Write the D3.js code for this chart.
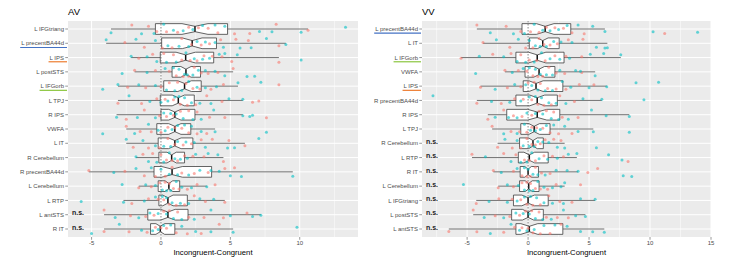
<!DOCTYPE html>
<html>
<head>
<meta charset="utf-8">
<script src="https://cdn.jsdelivr.net/npm/d3@7"></script>
<style>
  body { margin: 0; background: #fff; }
  svg { display: block; }
  text { font-family: "Liberation Sans", Arial, sans-serif; }
</style>
</head>
<body>
<div id="chart"></div>
<script>
// ---- AV panel data (Incongruent - Congruent) ----
const avRois = ["L IFGtriang", "L precentBA44d", "L IPS", "L postSTS", "L IFGorb", "L TPJ", "R IPS", "VWFA",
  "L IT", "R Cerebellum", "R precentBA44d", "L Cerebellum", "L RTP", "L antSTS", "R IT"];
const avLo  = [-3.6, -3.95, -2.15, -1.9, -3.1, -3.1, -3.2, -2.5, -2.5, -1.8, -5.2, -1.6, -2.7, -4.1, -4.1];
const avQ1  = [-0.4, 0.05, -0.05, 0.8, 0.2, -0.05, 0.0, -0.3, -0.2, -0.15, -0.5, -0.2, -0.15, -0.95, -0.75];
const avMed = [2.45, 2.25, 1.78, 1.8, 1.7, 1.25, 1.0, 1.0, 1.0, 0.77, 0.8, 0.57, 0.5, 0.5, -0.05];
const avQ3  = [4.8, 4.0, 3.8, 2.85, 2.9, 2.4, 2.45, 2.15, 2.3, 1.7, 3.65, 1.35, 1.9, 1.95, 1.0];
const avHi  = [10.6, 9.0, 8.5, 5.2, 5.55, 5.9, 5.9, 3.9, 6.05, 4.5, 9.5, 3.3, 4.6, 7.2, 5.2];
const avNs  = ["L antSTS", "R IT"];
const avSalmon = [
  [-2.1, -0.9, -0.3, 0.4, 1.2, 2.0, 2.7, 3.4, 4.1, 5.3, 6.4, 8.3, 10.6],
  [-2.6, -1.2, 0.1, 0.8, 1.5, 2.2, 2.9, 3.5, 4.3, 5.4, 6.3, 8.5],
  [-1.6, -0.6, 0.2, 0.9, 1.5, 2.1, 2.6, 3.1, 3.7, 4.4, 5.1, 8.5],
  [-1.9, -0.4, 0.6, 1.1, 1.6, 2.0, 2.4, 2.9, 3.4, 4.1, 5.2],
  [-2.4, -1.1, 0.0, 0.6, 1.2, 1.8, 2.3, 2.8, 3.6, 4.5, 8.5],
  [-3.1, -1.4, -0.3, 0.3, 0.9, 1.4, 1.9, 2.5, 3.3, 4.4, 6.6, 7.05],
  [-2.5, -1.2, -0.1, 0.4, 0.9, 1.4, 2.0, 2.6, 3.5, 4.6, 7.6],
  [-2.5, -1.5, -0.7, 0.0, 0.5, 1.0, 1.5, 2.0, 2.6, 3.3],
  [-2.0, -0.9, -0.1, 0.5, 1.0, 1.6, 2.2, 2.9, 3.7, 4.9, 6.05],
  [-1.3, -0.6, 0.0, 0.4, 0.8, 1.2, 1.7, 2.3, 3.1, 4.5],
  [-5.2, -2.6, -1.2, -0.4, 0.3, 0.8, 1.5, 2.4, 3.4, 4.6, 5.3],
  [-1.6, -0.7, -0.1, 0.3, 0.6, 0.9, 1.3, 1.9, 2.6, 3.9],
  [-2.1, -0.9, -0.2, 0.2, 0.6, 1.1, 1.7, 2.4, 3.2, 4.6],
  [-4.1, -2.2, -1.1, -0.5, 0.2, 0.6, 1.2, 2.0, 3.1, 4.5, 6.2],
  [-4.1, -2.3, -1.0, -0.4, 0.0, 0.4, 1.1, 1.9, 2.9, 4.2]
];
const avTeal = [
  [-3.6, -1.4, -0.5, 0.2, 0.9, 1.6, 2.3, 3.0, 3.9, 4.6, 7.1, 8.0, 10.1, 13.3],
  [-3.95, -1.8, -0.4, 0.5, 1.3, 2.0, 2.6, 3.2, 3.9, 4.5, 5.7, 6.5, 7.6, 9.0],
  [-2.15, -1.0, -0.3, 0.4, 1.1, 1.8, 2.4, 3.0, 3.5, 4.2, 4.6, 5.5, 10.1],
  [-2.8, -1.0, 0.3, 0.9, 1.3, 1.7, 1.9, 2.3, 2.7, 3.2, 3.9, 4.6, 6.2, 6.75],
  [-4.2, -3.1, -1.6, -0.4, 0.4, 1.0, 1.5, 2.0, 2.6, 3.2, 4.0, 5.55, 7.2],
  [-2.3, -0.8, 0.0, 0.5, 1.0, 1.3, 1.7, 2.2, 2.8, 3.6, 4.9, 5.9],
  [-3.2, -1.7, -0.4, 0.2, 0.7, 1.1, 1.6, 2.3, 2.9, 3.8, 5.9, 6.4, 6.6],
  [-4.2, -1.9, -0.9, -0.2, 0.3, 0.8, 1.2, 1.7, 2.2, 2.9, 3.9, 7.6],
  [-2.5, -1.3, -0.4, 0.2, 0.7, 1.2, 1.8, 2.4, 3.2, 4.8, 5.3, 7.05],
  [-1.8, -0.9, -0.3, 0.2, 0.6, 1.0, 1.4, 1.9, 2.5, 3.4, 4.1],
  [-3.4, -1.8, -0.7, 0.0, 0.6, 1.2, 2.0, 2.8, 3.6, 4.2, 5.0, 5.8, 9.5],
  [-2.8, -1.1, -0.4, 0.1, 0.4, 0.7, 1.1, 1.5, 2.2, 3.3],
  [-5.75, -2.7, -1.2, -0.4, 0.1, 0.4, 0.8, 1.4, 2.0, 2.8, 3.8],
  [-3.3, -1.6, -0.8, -0.2, 0.4, 0.9, 1.5, 2.4, 3.6, 5.0, 6.6, 7.2],
  [-5.0, -3.0, -1.4, -0.6, -0.2, 0.2, 0.7, 1.5, 2.5, 3.6, 5.2, 9.8]
];

// ---- VV panel data ----
const vvRois = ["L precentBA44d", "L IT", "L IFGorb", "VWFA", "L IPS", "R precentBA44d", "R IPS", "L TPJ",
  "R Cerebellum", "L RTP", "R IT", "L Cerebellum", "L IFGtriang", "L postSTS", "L antSTS"];
const vvLo  = [-4.2, -3.7, -5.5, -1.9, -3.9, -4.2, -3.3, -2.95, -2.5, -4.6, -2.85, -2.45, -4.25, -4.5, -6.5];
const vvQ1  = [-0.5, 0.1, -1.0, -0.25, -0.4, -1.0, -1.75, -0.6, -0.7, -0.8, -0.65, -0.7, -1.2, -1.35, -1.0];
const vvMed = [1.4, 1.2, 0.75, 0.9, 0.65, 0.75, 0.75, 0.5, 0.4, 0.1, 0.0, 0.05, 0.0, 0.0, 0.1];
const vvQ3  = [3.5, 2.55, 2.95, 2.2, 2.85, 2.4, 2.6, 1.8, 1.25, 1.65, 0.85, 0.9, 1.65, 1.25, 2.85];
const vvHi  = [6.3, 6.5, 7.6, 5.5, 6.45, 6.05, 8.3, 5.35, 3.0, 4.0, 4.1, 3.0, 5.5, 4.7, 6.25];
const vvNs  = ["R Cerebellum", "L RTP", "R IT", "L Cerebellum", "L IFGtriang", "L postSTS", "L antSTS"];
const vvSalmon = [
  [-4.2, -1.8, -0.6, 0.2, 0.9, 1.5, 2.2, 2.9, 3.6, 4.6, 11.2],
  [-3.7, -1.5, -0.2, 0.4, 0.9, 1.3, 1.8, 2.4, 3.3, 4.5],
  [-5.5, -2.9, -1.4, -0.6, 0.1, 0.7, 1.4, 2.2, 3.1, 4.4],
  [-1.9, -0.8, -0.1, 0.4, 0.8, 1.2, 1.7, 2.3, 3.0, 4.4],
  [-3.9, -1.7, -0.6, 0.0, 0.5, 1.0, 1.6, 2.3, 3.1, 4.2, 5.4],
  [-4.2, -2.2, -1.1, -0.4, 0.3, 0.8, 1.3, 1.9, 2.6, 3.8],
  [-3.3, -2.0, -1.2, -0.5, 0.3, 0.9, 1.5, 2.1, 2.8, 4.1],
  [-2.95, -1.4, -0.7, -0.1, 0.3, 0.7, 1.2, 1.8, 2.5, 3.6],
  [-2.5, -1.3, -0.6, -0.1, 0.3, 0.6, 1.0, 1.4, 2.1, 2.7],
  [-4.6, -2.0, -1.0, -0.3, 0.1, 0.6, 1.3, 2.0, 2.9, 8.2],
  [-2.85, -1.2, -0.5, -0.1, 0.2, 0.6, 1.1, 1.8, 4.9, 5.7],
  [-2.45, -1.2, -0.5, -0.1, 0.2, 0.6, 1.0, 1.6, 2.3, 4.3],
  [-4.25, -2.4, -1.3, -0.6, -0.1, 0.4, 1.0, 1.7, 2.6, 3.6],
  [-4.5, -2.7, -1.5, -0.7, -0.2, 0.3, 0.9, 1.5, 2.4, 3.3],
  [-6.5, -4.2, -2.0, -1.1, -0.5, 0.0, 0.4, 1.0, 1.8, 2.7]
];
const vvTeal = [
  [-3.1, -1.2, -0.3, 0.5, 1.2, 1.8, 2.5, 3.2, 4.1, 5.3, 6.3, 10.25, 13.9],
  [-2.6, -0.8, 0.1, 0.6, 1.0, 1.5, 2.1, 2.7, 3.6, 5.6, 6.3, 6.5],
  [-4.0, -2.0, -0.9, -0.2, 0.5, 1.1, 1.8, 2.6, 3.4, 5.1, 6.2, 7.6],
  [-4.3, -1.3, -0.4, 0.1, 0.6, 1.0, 1.5, 2.0, 2.6, 3.9, 4.3, 5.5],
  [-2.7, -1.1, -0.2, 0.3, 0.8, 1.4, 2.0, 2.8, 3.5, 5.0, 6.45, 8.85, 10.7],
  [-7.8, -3.0, -1.5, -0.6, 0.1, 0.6, 1.1, 1.7, 2.3, 3.1, 4.5, 6.05, 9.5],
  [-2.7, -1.6, -0.9, -0.1, 0.6, 1.2, 1.9, 2.5, 3.3, 5.2, 6.4, 8.3],
  [-2.0, -0.9, -0.3, 0.2, 0.6, 1.0, 1.5, 2.1, 3.0, 4.1, 5.35, 8.3],
  [-1.9, -0.9, -0.4, 0.1, 0.5, 0.8, 1.2, 1.7, 2.4, 3.0, 5.6],
  [-3.5, -1.4, -0.6, -0.1, 0.3, 0.9, 1.6, 2.4, 3.3, 4.0, 6.6, 7.7],
  [-2.2, -0.9, -0.3, 0.0, 0.4, 0.8, 1.4, 2.3, 3.2, 4.1, 7.8, 8.5],
  [-5.3, -1.7, -0.8, -0.3, 0.1, 0.4, 0.8, 1.3, 2.0, 2.7, 3.0],
  [-3.2, -1.7, -0.9, -0.3, 0.2, 0.7, 1.3, 2.0, 2.9, 4.3, 5.5],
  [-3.6, -2.0, -1.0, -0.4, 0.1, 0.6, 1.2, 1.9, 2.9, 3.9, 4.7],
  [-3.1, -1.4, -0.7, -0.1, 0.5, 1.3, 2.2, 3.2, 4.3, 5.3, 6.25]
];

// highlighted ROI labels get a coloured underline
const markColor = { "L precentBA44d": "#4472C4", "L IPS": "#ED7D31", "L IFGorb": "#8CC63F" };
const SALMON = "#F8766D", TEAL = "#00BFC4";
// fixed vertical jitter pattern (fraction of row spacing)
const jitter = [-0.28, 0.12, 0.31, -0.05, 0.22, -0.19, 0.04, -0.33, 0.27, -0.12, 0.17, -0.24, 0.08, 0.33, -0.09, 0.2];

const svg = d3.select("#chart").append("svg").attr("width", 749).attr("height", 262);

function drawPanel(p) {
  const top = 21, bottom = 237;
  const x = d3.scaleLinear().domain(p.domain).range([p.left, p.right]);
  const y = d3.scalePoint().domain(p.rois).range([29, 229]);
  const step = y.step();
  const g = svg.append("g");

  // panel background + grid
  g.append("rect").attr("x", p.left).attr("y", top)
    .attr("width", p.right - p.left).attr("height", bottom - top).attr("fill", "#EBEBEB");
  g.selectAll(".minor").data(p.minor).join("line")
    .attr("x1", d => x(d)).attr("x2", d => x(d)).attr("y1", top).attr("y2", bottom)
    .attr("stroke", "#fff").attr("stroke-width", 0.5);
  g.selectAll(".major").data(p.ticks).join("line")
    .attr("x1", d => x(d)).attr("x2", d => x(d)).attr("y1", top).attr("y2", bottom)
    .attr("stroke", "#fff").attr("stroke-width", 1);
  g.selectAll(".hgrid").data(p.rois).join("line")
    .attr("x1", p.left).attr("x2", p.right).attr("y1", d => y(d)).attr("y2", d => y(d))
    .attr("stroke", "#fff").attr("stroke-width", 1);

  // boxplots
  const h = step * 0.375;
  p.rois.forEach((roi, i) => {
    const cy = y(roi);
    const iqr = p.q3[i] - p.q1[i];
    const nLo = p.med[i] - 0.18 * iqr, nHi = p.med[i] + 0.18 * iqr;
    const bx = g.append("g");
    bx.append("line").attr("x1", x(p.lo[i])).attr("x2", x(p.q1[i])).attr("y1", cy).attr("y2", cy)
      .attr("stroke", "#333").attr("stroke-width", 0.7);
    bx.append("line").attr("x1", x(p.q3[i])).attr("x2", x(p.hi[i])).attr("y1", cy).attr("y2", cy)
      .attr("stroke", "#333").attr("stroke-width", 0.7);
    const pts = [
      [x(p.q1[i]), cy - h], [x(nLo), cy - h], [x(p.med[i]), cy - h / 2], [x(nHi), cy - h], [x(p.q3[i]), cy - h],
      [x(p.q3[i]), cy + h], [x(nHi), cy + h], [x(p.med[i]), cy + h / 2], [x(nLo), cy + h], [x(p.q1[i]), cy + h]
    ];
    bx.append("path").attr("d", "M" + pts.join("L") + "Z")
      .attr("fill", "#fff").attr("stroke", "#333").attr("stroke-width", 0.75);
    bx.append("line").attr("x1", x(p.med[i])).attr("x2", x(p.med[i]))
      .attr("y1", cy - h / 2).attr("y2", cy + h / 2).attr("stroke", "#111").attr("stroke-width", 1.5);
  });

  // dashed zero line
  g.append("line").attr("x1", x(0)).attr("x2", x(0)).attr("y1", top).attr("y2", bottom)
    .attr("stroke", "#555").attr("stroke-width", 0.7).attr("stroke-dasharray", "1.5,1.5");

  // jittered points
  const pointData = [];
  p.rois.forEach((roi, r) => {
    p.salmon[r].forEach((v, i) => pointData.push({ roi, v, c: SALMON, j: jitter[(i * 5 + r * 3) % 16] }));
    p.teal[r].forEach((v, i) => pointData.push({ roi, v, c: TEAL, j: jitter[(i * 5 + r * 3 + 8) % 16] }));
  });
  g.selectAll(".pt").data(pointData).join("circle")
    .attr("cx", d => x(d.v)).attr("cy", d => y(d.roi) + d.j * step)
    .attr("r", 1.5).attr("fill", d => d.c).attr("fill-opacity", 0.6);

  // y axis
  p.rois.forEach(roi => {
    const cy = y(roi);
    g.append("line").attr("x1", p.left - 2.75).attr("x2", p.left).attr("y1", cy).attr("y2", cy)
      .attr("stroke", "#333").attr("stroke-width", 0.5);
    const t = g.append("text").attr("x", p.left - 4).attr("y", cy).attr("dy", "0.35em")
      .attr("text-anchor", "end").attr("font-size", 6).attr("fill", "#4D4D4D").text(roi);
    if (markColor[roi]) {
      const w = t.node().getComputedTextLength();
      g.append("line").attr("x1", p.left - 4 - w - 1).attr("x2", p.left - 1)
        .attr("y1", cy + 4.2).attr("y2", cy + 4.2)
        .attr("stroke", markColor[roi]).attr("stroke-width", 1.2);
    }
    if (p.ns.includes(roi)) {
      g.append("text").attr("x", p.left + 4).attr("y", cy).attr("dy", "0.1em")
        .attr("font-size", 7).attr("font-weight", "bold").attr("fill", "#222").text("n.s.");
    }
  });

  // x axis
  p.ticks.forEach(t => {
    g.append("line").attr("x1", x(t)).attr("x2", x(t)).attr("y1", bottom).attr("y2", bottom + 2.75)
      .attr("stroke", "#333").attr("stroke-width", 0.5);
    g.append("text").attr("x", x(t)).attr("y", 245).attr("text-anchor", "middle")
      .attr("font-size", 6).attr("fill", "#4D4D4D").text(t);
  });
  g.append("text").attr("x", (p.left + p.right) / 2).attr("y", 255).attr("text-anchor", "middle")
    .attr("font-size", 7.7).attr("fill", "#000").text("Incongruent-Congruent");

  g.append("text").attr("x", p.left).attr("y", 15).attr("font-size", 9.5).attr("fill", "#000").text(p.title);
}

drawPanel({ title: "AV", rois: avRois, lo: avLo, q1: avQ1, med: avMed, q3: avQ3, hi: avHi,
  salmon: avSalmon, teal: avTeal, ns: avNs,
  domain: [-6.7, 14.2], left: 68, right: 358, ticks: [-5, 0, 5, 10], minor: [-2.5, 2.5, 7.5, 12.5] });
drawPanel({ title: "VV", rois: vvRois, lo: vvLo, q1: vvQ1, med: vvMed, q3: vvQ3, hi: vvHi,
  salmon: vvSalmon, teal: vvTeal, ns: vvNs,
  domain: [-8.7, 15.0], left: 422, right: 711, ticks: [-5, 0, 5, 10, 15], minor: [-7.5, -2.5, 2.5, 7.5, 12.5] });
</script>
</body>
</html>
